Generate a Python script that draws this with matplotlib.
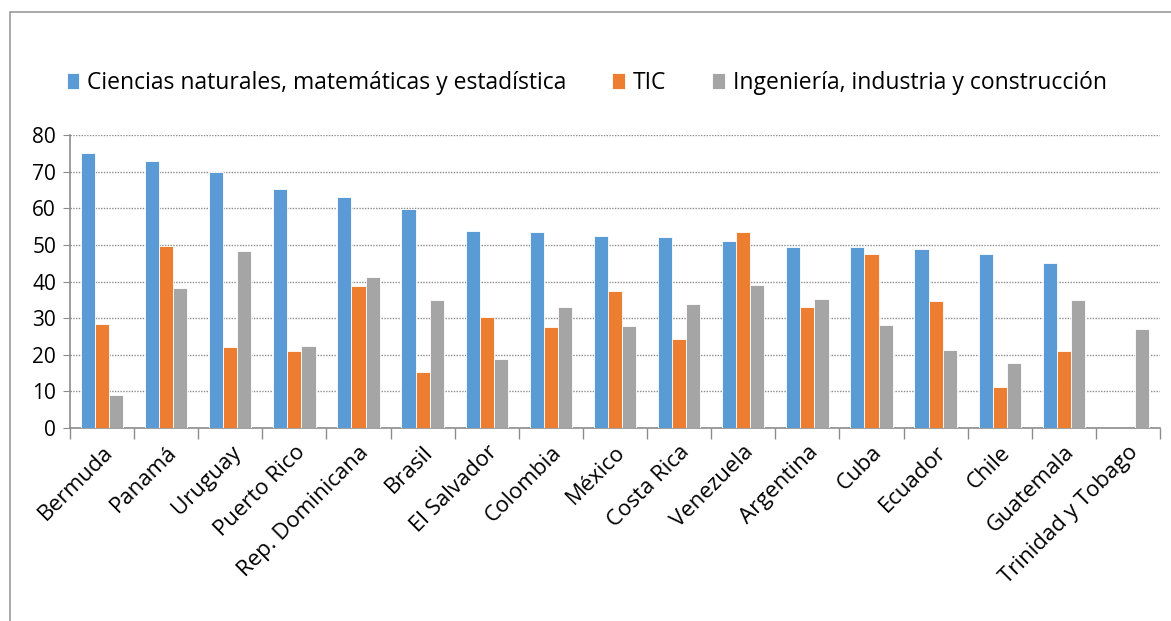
"""
Bar chart: three fields by country, grouped
"""
import numpy as np
import matplotlib as mpl
import matplotlib.pyplot as plt
from matplotlib.patches import Rectangle

mpl.use('Agg')

countries = ["Bermuda", "Panamá", "Uruguay", "Puerto Rico", "Rep. Dominicana",
             "Brasil", "El Salvador", "Colombia", "México", "Costa Rica",
             "Venezuela", "Argentina", "Cuba", "Ecuador", "Chile", "Guatemala",
             "Trinidad y Tobago"]
ciencias = [75.1, 73.0, 70.0, 65.3, 63.2, 59.7, 53.7, 53.5, 52.4, 52.2,
            51.1, 49.5, 49.3, 48.8, 47.5, 45.1, np.nan]
tic = [28.5, 49.8, 22.1, 20.9, 38.8, 15.2, 30.4, 27.7, 37.4, 24.2,
       53.5, 33.0, 47.6, 34.6, 11.2, 20.9, np.nan]
ingenieria = [9.0, 38.1, 48.4, 22.3, 41.1, 34.9, 18.8, 33.1, 27.8, 33.8,
              39.0, 35.3, 28.1, 21.3, 17.8, 34.9, 27.0]

labels = ["Ciencias naturales, matemáticas y estadística", "TIC",
          "Ingeniería, industria y construcción"]
colors = ["#5B9BD5", "#ED7D31", "#A5A5A5"]

plt.rcParams['font.family'] = ['Open Sans', 'DejaVu Sans']

fig = plt.figure(figsize=(11.71, 6.21), dpi=100)
ax = fig.add_axes([70 / 1171, 1 - 428 / 621, 1090 / 1171, 293 / 621])

x = np.arange(len(countries))
w = 0.22
for i, (vals, c, lab) in enumerate(zip([ciencias, tic, ingenieria], colors, labels)):
    ax.bar(x + (i - 1) * w, vals, w, color=c, label=lab,
           edgecolor="white", linewidth=0.6, zorder=3)

ax.set_xlim(-0.5, len(countries) - 0.5)
ax.set_ylim(0, 80)
ax.set_yticks(range(0, 81, 10))
ax.yaxis.grid(True, linestyle=(0, (1, 1)), color="#8c8c8c", linewidth=1, zorder=0)

ax.set_xticks(x)
ax.set_xticklabels(countries, rotation=45, ha="right", rotation_mode="anchor",
                   fontsize=16)
ax.set_xticks(np.arange(-0.5, len(countries)), minor=True)
ax.tick_params(axis="x", which="major", length=0, pad=10)
ax.tick_params(axis="x", which="minor", length=8, color="#8c8c8c", width=1)
ax.tick_params(axis="y", length=5, color="#8c8c8c", labelsize=15, pad=5)

for s in ["top", "right"]:
    ax.spines[s].set_visible(False)
for s in ["left", "bottom"]:
    ax.spines[s].set_color("#8c8c8c")
    ax.spines[s].set_linewidth(1.2)

handles, labs = ax.get_legend_handles_labels()
fig.legend(handles, labs, loc="center left", bbox_to_anchor=(46 / 1171, 1 - 83 / 621),
           ncol=3, frameon=False, fontsize=16.5, handlelength=0.55, handleheight=0.75,
           handletextpad=0.35, columnspacing=2.0)

fig.patches.append(Rectangle((10 / 1171, -0.1), 1.2, 1 - 12 / 621 + 0.1,
                             transform=fig.transFigure, fill=False,
                             edgecolor="#9a9a9a", linewidth=1.2))

fig.savefig("out.png", dpi=100)
